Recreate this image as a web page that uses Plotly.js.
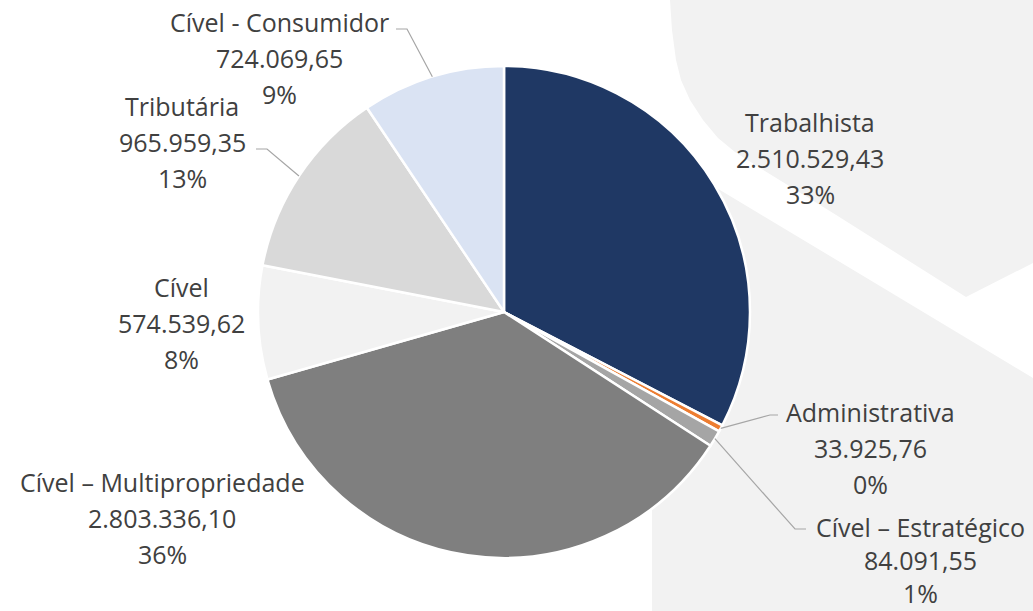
<!DOCTYPE html>
<html>
<head>
<meta charset="utf-8">
<script src="https://cdn.plot.ly/plotly-3.0.1.min.js"></script>
<style>
  html, body { margin: 0; padding: 0; background: #ffffff; }
  #chart { width: 1033px; height: 611px; }
</style>
</head>
<body>
<div id="chart"></div>
<script>
// ---- Data ----
const categories = ['Trabalhista', 'Administrativa', 'Cível – Estratégico', 'Cível – Multipropriedade', 'Cível', 'Tributária', 'Cível - Consumidor'];
const values = [2510529.43, 33925.76, 84091.55, 2803336.10, 574539.62, 965959.35, 724069.65];
const percentLabels = ['33%', '0%', '1%', '36%', '8%', '13%', '9%'];
const sliceColors = ['#1F3864', '#ED7D31', '#A5A5A5', '#7F7F7F', '#F2F2F2', '#D9D9D9', '#DAE3F3'];

// ---- Layout settings (pixels) ----
const W = 1033, H = 611;
const CX = 504, CY = 312, R = 246;
// centre of the middle line of each label block, and line spacing
const labelPos = [[810, 158], [870, 448], [920, 560], [162, 518], [181, 323], [182, 142], [279, 58]];
const lineGap = [36, 36, 33, 36, 36, 36, 36];
// leader line elbows (null = no leader line)
const leaderElbow = [null, [[770, 415], [778, 415]], [[795, 529], [806, 529]], null, null, [[267, 149], [256, 149]], [[407, 29], [396, 29]]];

const px = x => x / W;
const py = y => 1 - y / H;

function fmtBR(v) {
  const parts = v.toFixed(2).split('.');
  const int = parts[0].replace(/\B(?=(\d{3})+(?!\d))/g, '.');
  return int + ',' + parts[1];
}

const total = values.reduce((a, b) => a + b, 0);

const trace = {
  type: 'pie',
  labels: categories,
  values: values,
  sort: false,
  direction: 'clockwise',
  rotation: 0,
  textinfo: 'none',
  hoverinfo: 'none',
  showlegend: false,
  marker: { colors: sliceColors, line: { color: '#FFFFFF', width: 2.5 } },
  domain: { x: [px(CX - R), px(CX + R)], y: [py(CY + R), py(CY - R)] }
};

// background decoration (light grey watermark with white diagonal band)
function pathFrom(points) {
  return 'M ' + points.map(p => px(p[0]).toFixed(5) + ',' + py(p[1]).toFixed(5)).join(' L ') + ' Z';
}
const upperRegion = [[670, 0], [1033, 0], [1033, 263], [966, 297], [833, 213], [760, 168], [735, 152], [718, 138], [703, 120], [690, 100], [681, 80], [676, 60], [672, 30]];
const lowerRegion = [[1033, 378], [1033, 611], [652, 611], [652, 300], [700, 178], [745, 205], [840, 262]];

const shapes = [
  { type: 'path', xref: 'paper', yref: 'paper', path: pathFrom(upperRegion), fillcolor: '#F2F2F2', line: { width: 0 }, layer: 'below' },
  { type: 'path', xref: 'paper', yref: 'paper', path: pathFrom(lowerRegion), fillcolor: '#F2F2F2', line: { width: 0 }, layer: 'below' }
];

// leader lines: from slice mid-angle on the rim to the label
let cum = 0;
const annotations = [];
values.forEach((v, i) => {
  const midFrac = (cum + v / 2) / total;
  cum += v;
  const ang = midFrac * 2 * Math.PI;
  const sx = CX + R * Math.sin(ang);
  const sy = CY - R * Math.cos(ang);
  if (leaderElbow[i]) {
    const pts = [[sx, sy]].concat(leaderElbow[i]);
    shapes.push({
      type: 'path', xref: 'paper', yref: 'paper',
      path: 'M ' + pts.map(p => px(p[0]).toFixed(5) + ',' + py(p[1]).toFixed(5)).join(' L '),
      line: { color: '#A6A6A6', width: 1.2 }, layer: 'above'
    });
  }
  const lines = [categories[i], fmtBR(v), percentLabels[i]];
  lines.forEach((t, k) => {
    annotations.push({
      xref: 'paper', yref: 'paper',
      x: px(labelPos[i][0]), y: py(labelPos[i][1] + (k - 1) * lineGap[i]),
      xanchor: 'center', yanchor: 'middle',
      text: t, showarrow: false,
      font: { family: '"Open Sans", Lato, sans-serif', size: 25, color: '#404040' }
    });
  });
});

const layout = {
  width: W, height: H,
  margin: { l: 0, r: 0, t: 0, b: 0, pad: 0 },
  paper_bgcolor: '#FFFFFF',
  plot_bgcolor: '#FFFFFF',
  shapes: shapes,
  annotations: annotations
};

Plotly.newPlot('chart', [trace], layout, { displayModeBar: false, staticPlot: true });
</script>
</body>
</html>
